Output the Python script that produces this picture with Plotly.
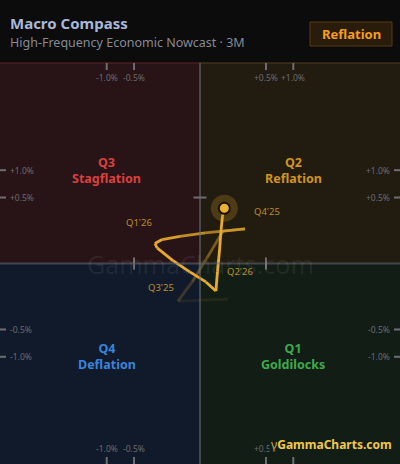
import numpy as np
import plotly.graph_objects as go

# growth (x) and inflation (y) nowcast trail, % (oldest first)
growth = [0.090, -0.056, -0.007, 0.006, 0.061, 0.233, 0.003, -0.046, -0.166, -0.233,
          -0.212, -0.084, -0.012, 0.004, 0.029, 0.035, 0.044, 0.051, 0.058, 0.068]
inflation = [-0.145, -0.162, -0.039, 0.004, 0.121, 0.137, 0.107, 0.084, 0.066, 0.046,
             0.028, 0.001, -0.008, -0.039, -0.087, -0.008, 0.021, 0.129, 0.259, 0.350]

# quarter markers: (label, index into trail)
quarter_labels = ["Q3'25", "Q4'25", "Q1'26", "Q2'26"]
quarter_index = [1, 5, 9, 14]

tick_values = [-1.0, -0.5, 0.5, 1.0]
tick_labels = ["-1.0%", "-0.5%", "+0.5%", "+1.0%"]

quadrants = [
    # name, regime, x sign, y sign, fill, text colour
    ("Q3", "Stagflation", -1, 1, "#281416", "#d9403f"),
    ("Q2", "Reflation", 1, 1, "#221b10", "#cf951c"),
    ("Q4", "Deflation", -1, -1, "#111a2a", "#3c83da"),
    ("Q1", "Goldilocks", 1, -1, "#121e15", "#3fa84c"),
]
current_regime = "Reflation"


def ssqrt(v):
    v = np.asarray(v, dtype=float)
    return np.sign(v) * np.sqrt(np.abs(v))


R = 2.1436
xs = ssqrt(growth)
ys = ssqrt(inflation)
gold = "#e6ab2c"

fig = go.Figure()

# trail, fading with age
n = len(xs)
for i in range(n - 1):
    op = min(1.0, 0.08 + i * 0.12)
    fig.add_trace(go.Scatter(
        x=xs[i:i + 2], y=ys[i:i + 2], mode="lines",
        line=dict(color=gold, width=2.8), opacity=op,
        hoverinfo="skip", showlegend=False,
    ))

# current point
fig.add_trace(go.Scatter(
    x=[xs[-1]], y=[ys[-1]], mode="markers",
    marker=dict(size=27, color="rgba(230,171,44,0.22)"),
    hoverinfo="skip", showlegend=False,
))
fig.add_trace(go.Scatter(
    x=[xs[-1]], y=[ys[-1]], mode="markers",
    marker=dict(size=11, color="#eab232", line=dict(color="#1a1208", width=2)),
    hoverinfo="skip", showlegend=False,
))

shapes = []
annotations = []

for name, regime, sx, sy, fill, tc in quadrants:
    shapes.append(dict(
        type="rect", layer="below", xref="x", yref="y",
        x0=0, x1=sx * R, y0=0, y1=sy * 2.149,
        fillcolor=fill, line=dict(width=0),
    ))
    annotations.append(dict(
        x=sx * 1.0, y=sy * 1.0, xref="x", yref="y",
        text=f"<b>{name}<br>{regime}</b>", showarrow=False,
        font=dict(size=12.5, color=tc, family="Noto Sans"),
        align="center",
    ))

# top border tint
shapes.append(dict(type="line", xref="x", yref="y domain", x0=-R, x1=0, y0=1, y1=1,
                   line=dict(color="#4a1c1e", width=1.5)))
shapes.append(dict(type="line", xref="x", yref="y domain", x0=0, x1=R, y0=1, y1=1,
                   line=dict(color="#3f3118", width=1.5)))

# centre cross
shapes.append(dict(type="line", xref="x", yref="y domain", x0=0, x1=0, y0=0, y1=1,
                   line=dict(color="rgba(110,110,120,0.55)", width=2)))
shapes.append(dict(type="line", xref="x domain", yref="y", x0=0, x1=1, y0=0, y1=0,
                   line=dict(color="rgba(110,110,120,0.55)", width=2)))

tick_col = "#6e6e72"
lab_font = dict(size=8.5, color="#6b6b70", family="Noto Sans")
for v, lab in zip(tick_values, tick_labels):
    p = float(ssqrt(v))
    # top / bottom edges
    shapes.append(dict(type="line", xref="x", yref="y domain", x0=p, x1=p,
                       y0=1, y1=1 - 7 / 401, line=dict(color=tick_col, width=2)))
    shapes.append(dict(type="line", xref="x", yref="y domain", x0=p, x1=p,
                       y0=0, y1=7 / 401, line=dict(color=tick_col, width=2)))
    annotations.append(dict(x=p, y=1, xref="x", yref="y domain", text=lab,
                            showarrow=False, xanchor="center", yanchor="top",
                            yshift=-7, font=lab_font))
    annotations.append(dict(x=p, y=0, xref="x", yref="y domain", text=lab,
                            showarrow=False, xanchor="center", yanchor="bottom",
                            yshift=8, font=lab_font))
    # left / right edges
    shapes.append(dict(type="line", xref="x domain", yref="y", x0=0, x1=6 / 400,
                       y0=p, y1=p, line=dict(color=tick_col, width=2)))
    shapes.append(dict(type="line", xref="x domain", yref="y", x0=1, x1=1 - 6 / 400,
                       y0=p, y1=p, line=dict(color=tick_col, width=2)))
    annotations.append(dict(x=0, y=p, xref="x domain", yref="y", text=lab,
                            showarrow=False, xanchor="left", yanchor="middle",
                            xshift=8, font=lab_font))
    annotations.append(dict(x=1, y=p, xref="x domain", yref="y", text=lab,
                            showarrow=False, xanchor="right", yanchor="middle",
                            xshift=-8, font=lab_font))

# ticks on the centre cross
h = float(ssqrt(0.5))
shapes.append(dict(type="line", xref="x", yref="y", x0=-0.07, x1=0.07, y0=h, y1=h,
                   line=dict(color=tick_col, width=2)))
for p in (-h, h):
    shapes.append(dict(type="line", xref="x", yref="y", x0=p, x1=p, y0=-0.065, y1=0.065,
                       line=dict(color=tick_col, width=2)))

# watermark
annotations.append(dict(x=0, y=0, xref="x", yref="y", text="GammaCharts.com",
                        showarrow=False, xanchor="center", yanchor="middle",
                        font=dict(size=25, color="rgba(255,255,255,0.07)",
                                  family="Noto Sans")))

# quarter labels
offsets = {"Q3'25": (-17, 14), "Q4'25": (22, 17), "Q1'26": (-16, 21), "Q2'26": (24, 20)}
for lab, idx in zip(quarter_labels, quarter_index):
    dx, dy = offsets[lab]
    annotations.append(dict(x=xs[idx], y=ys[idx], xref="x", yref="y", text=lab,
                            showarrow=False, xshift=dx, yshift=dy,
                            xanchor="center", yanchor="middle",
                            font=dict(size=9.5, color="#b88d2c", family="Noto Sans")))

# header
annotations.append(dict(x=8 / 400, y=1 - 23 / 464, xref="paper", yref="paper",
                        text="<b>Macro Compass</b>", showarrow=False,
                        xanchor="left", yanchor="middle",
                        font=dict(size=15, color="#a8b8d8", family="Noto Sans")))
annotations.append(dict(x=8 / 400, y=1 - 43 / 464, xref="paper", yref="paper",
                        text="High-Frequency Economic Nowcast · 3M", showarrow=False,
                        xanchor="left", yanchor="middle",
                        font=dict(size=12.5, color="#858a94", family="Noto Sans")))
shapes.append(dict(type="rect", xref="paper", yref="paper",
                   x0=310 / 400, x1=392 / 400, y0=1 - 46 / 464, y1=1 - 22 / 464,
                   fillcolor="#2a1c0a", line=dict(color="#573a12", width=1)))
annotations.append(dict(x=351 / 400, y=1 - 34 / 464, xref="paper", yref="paper",
                        text=f"<b>{current_regime}</b>", showarrow=False,
                        xanchor="center", yanchor="middle",
                        font=dict(size=13, color="#f59e1c", family="Noto Sans")))

# logo
annotations.append(dict(x=1, y=0, xref="x domain", yref="y domain",
                        text="<span style='color:#c9a64a'>γ</span><b>GammaCharts.com</b>",
                        showarrow=False, xanchor="right", yanchor="bottom",
                        xshift=-6, yshift=9, bgcolor="#121e15", borderpad=1,
                        font=dict(size=12, color="#f0c84e", family="Noto Sans")))

fig.update_layout(
    width=400, height=464,
    margin=dict(l=0, r=0, t=0, b=0),
    paper_bgcolor="#0c0c0d", plot_bgcolor="#0c0c0d",
    xaxis=dict(range=[-R, R], visible=False, domain=[0, 1], fixedrange=True),
    yaxis=dict(range=[-2.149, 2.149], visible=False, domain=[0, 401 / 464], fixedrange=True),
    shapes=shapes, annotations=annotations, showlegend=False,
)

fig.write_html(
    "out.html",
    config={"displayModeBar": False},
    post_script="document.body.style.margin='0';document.body.style.overflow='hidden';",
)
